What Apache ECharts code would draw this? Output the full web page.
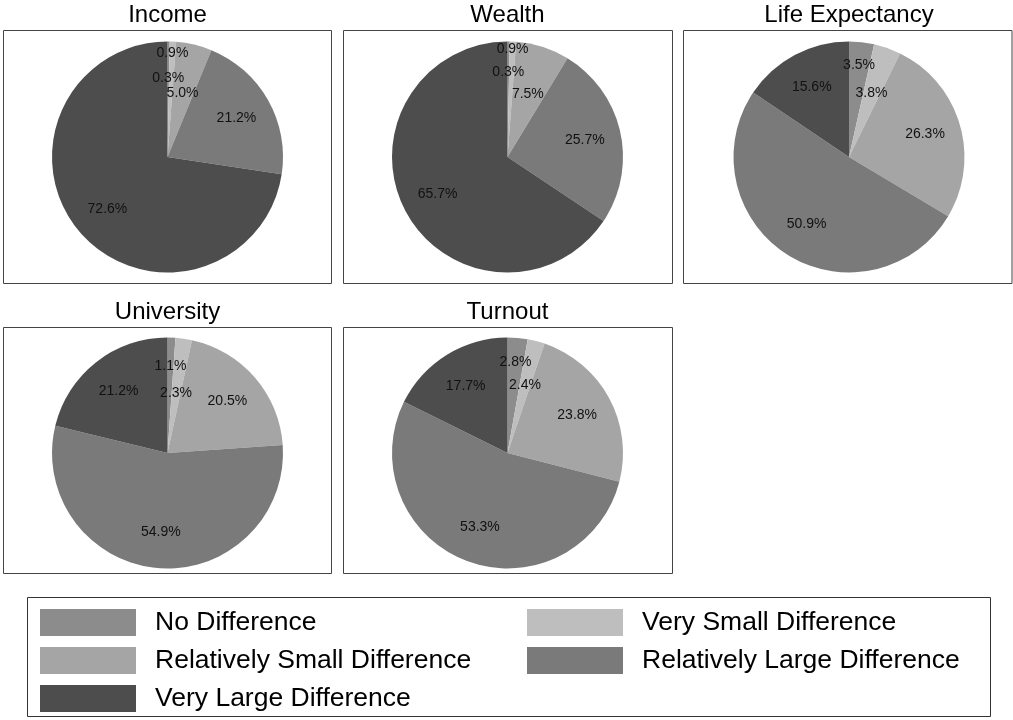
<!DOCTYPE html>
<html>
<head>
<meta charset="utf-8">
<script src="https://cdn.jsdelivr.net/npm/echarts@6/dist/echarts.min.js"></script>
<style>
html,body{margin:0;padding:0;background:#fff;}
#chart{width:1013px;height:720px;}
</style>
</head>
<body>
<div id="chart"></div>
<script>
// ---- data ----
const categories = ['No Difference', 'Very Small Difference', 'Relatively Small Difference', 'Relatively Large Difference', 'Very Large Difference'];
const panelTitles = ['Income', 'Wealth', 'Life Expectancy', 'University', 'Turnout'];
const incomeValues = [0.3, 0.9, 5.0, 21.2, 72.6];
const wealthValues = [0.3, 0.9, 7.5, 25.7, 65.7];
const lifeExpectancyValues = [3.5, 3.8, 26.3, 50.9, 15.6];
const universityValues = [1.1, 2.3, 20.5, 54.9, 21.2];
const turnoutValues = [2.8, 2.4, 23.8, 53.3, 17.7];
const panelValues = [incomeValues, wealthValues, lifeExpectancyValues, universityValues, turnoutValues];

// ---- styles / layout ----
const colors = ['#8c8c8c', '#bebebe', '#a5a5a5', '#7a7a7a', '#4d4d4d'];
const pieRadius = 115.5;
const panelLayout = [
  { cx: 167.5, cy: 157, frame: [3.5, 30.5, 328, 253], titleY: 15 },
  { cx: 507.5, cy: 157, frame: [343.5, 30.5, 329, 253], titleY: 15 },
  { cx: 849, cy: 157, frame: [683.5, 30.5, 328.5, 253], titleY: 15 },
  { cx: 167.5, cy: 453, frame: [3.5, 327.5, 328, 246], titleY: 312 },
  { cx: 507.5, cy: 453, frame: [343.5, 327.5, 329, 246], titleY: 312 }
];
// label distance from centre as fraction of radius, per slice
const labelRadius = [
  [0.66, 0.87, 0.54, 0.66, 0.66],
  [0.71, 0.91, 0.55, 0.66, 0.66],
  [0.77, 0.56, 0.66, 0.66, 0.66],
  [0.73, 0.50, 0.66, 0.66, 0.66],
  [0.76, 0.58, 0.66, 0.66, 0.66]
];
const FONT = 'Liberation Sans, Arial, Helvetica, sans-serif';

const series = [];
const graphics = [];

panelValues.forEach(function (vals, p) {
  const L = panelLayout[p];
  series.push({
    type: 'pie',
    name: panelTitles[p],
    center: [L.cx, L.cy],
    radius: pieRadius,
    startAngle: 90,
    clockwise: true,
    avoidLabelOverlap: false,
    label: { show: false },
    labelLine: { show: false },
    emphasis: { scale: false },
    itemStyle: { borderWidth: 0 },
    data: vals.map(function (v, i) {
      return { name: categories[i], value: v, itemStyle: { color: colors[i] } };
    })
  });
  // transparent label-carrying pies, one per label distance
  const factors = Array.from(new Set(labelRadius[p]));
  factors.forEach(function (f) {
    series.push({
      type: 'pie',
      name: panelTitles[p] + ' labels ' + f,
      center: [L.cx, L.cy],
      radius: pieRadius * 2 * f,
      startAngle: 90,
      clockwise: true,
      silent: true,
      avoidLabelOverlap: false,
      labelLine: { show: false },
      emphasis: { disabled: true },
      itemStyle: { color: 'rgba(0,0,0,0)', borderWidth: 0 },
      label: {
        position: 'inside',
        color: '#111',
        fontFamily: FONT,
        fontSize: 14,
        formatter: function (prm) { return prm.value.toFixed(1) + '%'; }
      },
      data: vals.map(function (v, i) {
        return { name: categories[i], value: v, label: { show: labelRadius[p][i] === f } };
      })
    });
  });
  graphics.push({
    type: 'rect',
    shape: { x: L.frame[0], y: L.frame[1], width: L.frame[2], height: L.frame[3] },
    style: { fill: 'none', stroke: '#444', lineWidth: 1 },
    z: -1
  });
  graphics.push({
    type: 'text',
    x: L.cx,
    y: L.titleY,
    style: { text: panelTitles[p], fill: '#000', font: '24px ' + FONT, align: 'center', verticalAlign: 'middle' }
  });
});

graphics.push({
  type: 'rect',
  shape: { x: 27.5, y: 597.5, width: 963, height: 119 },
  style: { fill: 'none', stroke: '#333', lineWidth: 1 },
  z: -1
});

function legendBlock(left, idxs) {
  return {
    orient: 'vertical',
    left: left,
    top: 607,
    padding: 0,
    itemWidth: 96,
    itemHeight: 27,
    itemGap: 7,
    icon: 'rect',
    selectedMode: false,
    textStyle: { fontFamily: FONT, fontSize: 26.5, color: '#000', lineHeight: 27, padding: [4, 0, 0, 14] },
    data: idxs.map(function (i) { return { name: categories[i], itemStyle: { color: colors[i], borderWidth: 0 } }; })
  };
}

const option = {
  animation: false,
  backgroundColor: '#fff',
  legend: [legendBlock(40, [0, 2, 4]), legendBlock(527, [1, 3])],
  graphic: graphics,
  series: series
};

const chart = echarts.init(document.getElementById('chart'));
chart.setOption(option);
</script>
</body>
</html>
